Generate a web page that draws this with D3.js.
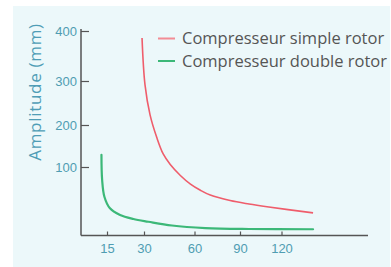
<!DOCTYPE html>
<html lang="fr">
<head>
<meta charset="UTF-8">
<title>Amplitude compresseur</title>
<script src="https://d3js.org/d3.v7.min.js"></script>
<style>
    body { margin: 0; background: #fff; }
    svg { display: block; font-family: "Open Sans", sans-serif; }
    .tick text { fill: #4f9db2; font-size: 13px; }
    .tick line { stroke: #555; stroke-width: 1.2; }
</style>
</head>
<body>
<script>
    // values
    const seriesNames = ["Compresseur simple rotor", "Compresseur double rotor"];
    const seriesColors = ["#ef5d6b", "#3cb878"];
    const legendColors = ["#f38c95", "#3cb878"];
    const xTicks = [15, 30, 60, 90, 120];
    const yTicks = [100, 200, 300, 400];

    // simple rotor: [frequence, amplitude]
    const simpleRotor = [[29.2, 386], [30.6, 291], [33.6, 223], [37.6, 170], [41.4, 131], [45.6, 106],
        [51.6, 87.6], [57.6, 75], [63.9, 66], [70.4, 59], [83.5, 51], [96.5, 46], [109.5, 42], [142.8, 33]];
    // double rotor
    const doubleRotor = [[11.8, 129], [12.2, 81], [13.5, 56.6], [16.2, 39.7], [20.3, 29.9], [25.7, 24.1],
        [32.6, 20.1], [46.6, 14.6], [67.2, 10.9], [96.5, 9.5], [142.8, 9.1]];

    const width = 391, height = 267;

    const svg = d3.select("body").append("svg")
        .attr("width", width)
        .attr("height", height);

    // light panel behind the chart
    svg.append("rect")
        .attr("x", 13).attr("y", 6)
        .attr("width", 377).attr("height", height - 6)
        .attr("fill", "#ecf8fa");

    // the ticks are not evenly spaced in the picture, so piecewise scales
    const x = d3.scaleLinear()
        .domain([0].concat(xTicks))
        .range([81, 107, 144, 194.5, 240, 281.5]);
    const y = d3.scaleLinear()
        .domain([0].concat(yTicks))
        .range([235.5, 167, 125, 81, 31]);

    const axisLeft = 81, axisBottom = 235.5;

    // y axis
    const gy = svg.append("g")
        .attr("transform", `translate(${axisLeft},0)`)
        .call(d3.axisLeft(y).tickValues(yTicks).tickSizeInner(-8).tickSizeOuter(0).tickPadding(4));
    gy.select(".domain").remove();
    svg.append("line")
        .attr("x1", axisLeft).attr("x2", axisLeft)
        .attr("y1", 29).attr("y2", axisBottom)
        .attr("stroke", "#555").attr("stroke-width", 1.5);

    // x axis
    const gx = svg.append("g")
        .attr("transform", `translate(0,${axisBottom})`)
        .call(d3.axisBottom(x).tickValues(xTicks).tickSizeInner(-4).tickSizeOuter(0).tickPadding(8));
    gx.select(".domain").remove();
    svg.append("line")
        .attr("x1", axisLeft).attr("x2", 368)
        .attr("y1", axisBottom).attr("y2", axisBottom)
        .attr("stroke", "#555").attr("stroke-width", 1.5);

    // y label
    svg.append("text")
        .attr("transform", `translate(41,92) rotate(-90)`)
        .attr("text-anchor", "middle")
        .attr("fill", "#4f9db6")
        .style("font-size", "17px")
        .style("letter-spacing", "0.7px")
        .text("Amplitude (mm)");

    const line = d3.line()
        .x(d => x(d[0]))
        .y(d => y(d[1]))
        .curve(d3.curveCatmullRom.alpha(0.5));

    svg.append("path")
        .datum(simpleRotor)
        .attr("d", line)
        .attr("fill", "none")
        .attr("stroke", seriesColors[0])
        .attr("stroke-width", 1.6);

    svg.append("path")
        .datum(doubleRotor)
        .attr("d", line)
        .attr("fill", "none")
        .attr("stroke", seriesColors[1])
        .attr("stroke-width", 2.2)
        .attr("stroke-linecap", "round");

    // legend
    const legend = svg.append("g")
        .selectAll("g")
        .data(seriesNames)
        .enter().append("g")
        .attr("transform", (d, i) => `translate(158,${38.5 + i * 22.5})`);

    legend.append("line")
        .attr("x1", 0).attr("x2", 17)
        .attr("stroke", (d, i) => legendColors[i])
        .attr("stroke-width", 2);

    legend.append("text")
        .attr("x", 24)
        .attr("dy", "0.35em")
        .attr("fill", "#555")
        .style("font-size", "16.5px")
        .text(d => d);
</script>
</body>
</html>
